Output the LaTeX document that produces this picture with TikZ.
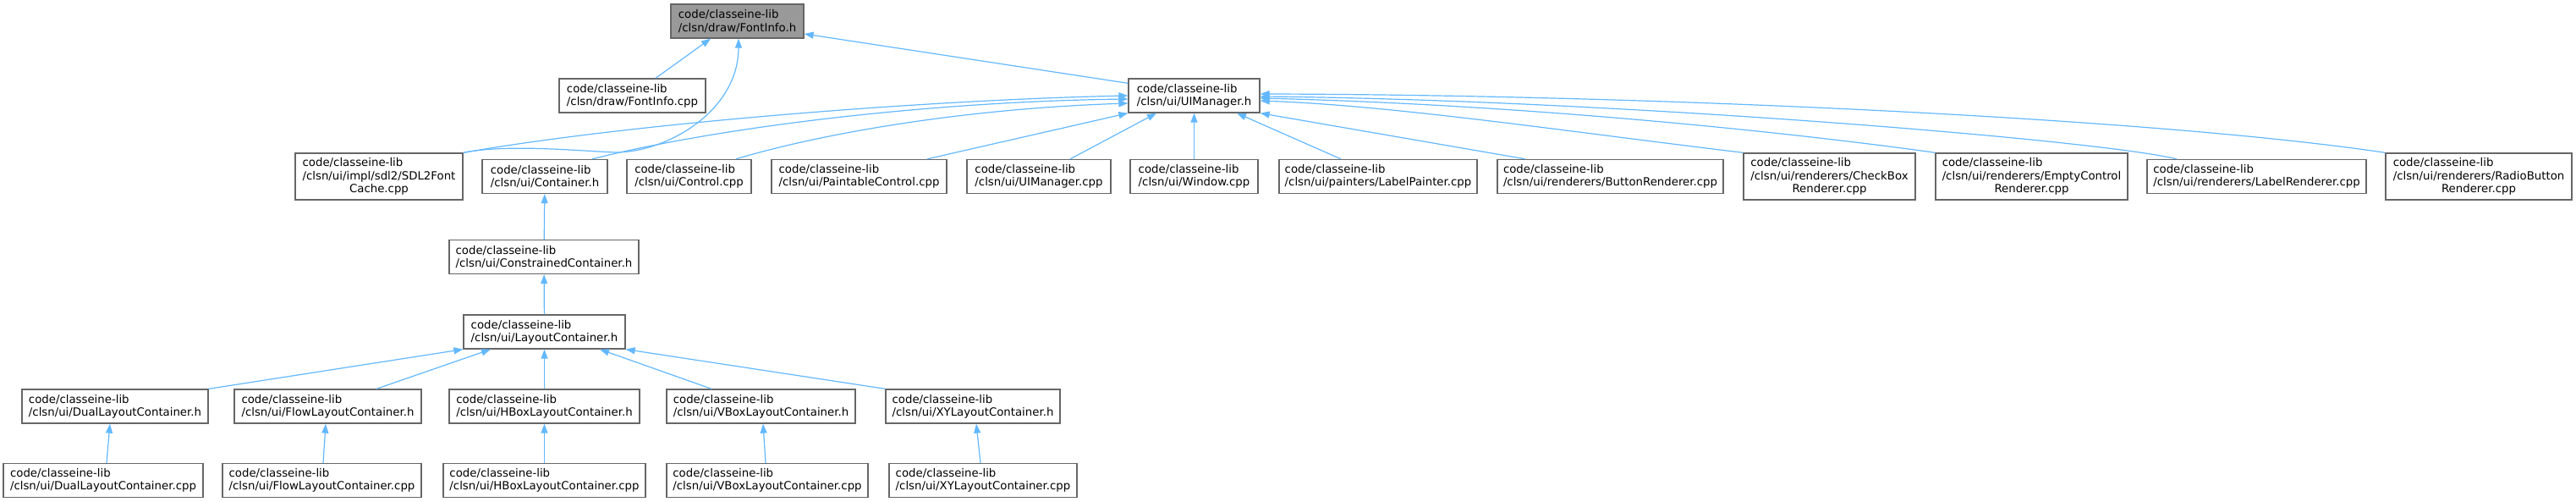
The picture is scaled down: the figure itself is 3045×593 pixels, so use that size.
\documentclass[tikz,border=0pt]{standalone}
\usepackage{fontspec}
\setmainfont{DejaVu Sans}
\usetikzlibrary{arrows.meta}
\definecolor{edgeblue}{HTML}{63B8FF}
\definecolor{framegrey}{HTML}{666666}
\definecolor{rootgrey}{HTML}{999999}
\newcommand{\lastc}[1]{\hspace*{\fill}#1\hspace*{\fill}}

\begin{document}
\begin{tikzpicture}[x=1pt, y=-1pt,
    file/.style={draw=framegrey, fill=white, line width=1.3pt, align=left, inner sep=0pt,
        minimum height=40pt, font=\fontsize{13.3}{15.2}\selectfont},
    tall/.style={file, minimum height=55pt},
    dep/.style={edgeblue, line width=1.2pt, -{Triangle[length=11pt,width=8pt]}}]
    \useasboundingbox (0,0) rectangle (3045,593);

    % Top row
    \node[file, fill=rootgrey, minimum width=157pt] (finfo) at (871.5,25) {code/classeine-lib\\/clsn/draw/FontInfo.h};
    \node[file, minimum width=173pt] (fcpp) at (747.5,113) {code/classeine-lib\\/clsn/draw/FontInfo.cpp};
    \node[file, minimum width=155pt] (ui) at (1411.5,113) {code/classeine-lib\\/clsn/ui/UIManager.h};

    % Users of UIManager.h
    \node[tall, minimum width=198pt] (sdl2) at (448,208.5) {code/classeine-lib\\/clsn/ui/impl/sdl2/SDL2Font\\\lastc{Cache.cpp}};
    \node[file, minimum width=148pt] (cont) at (644,208.5) {code/classeine-lib\\/clsn/ui/Container.h};
    \node[file, minimum width=147pt] (ctrl) at (814.5,208.5) {code/classeine-lib\\/clsn/ui/Control.cpp};
    \node[file, minimum width=207pt] (paint) at (1015.5,208.5) {code/classeine-lib\\/clsn/ui/PaintableControl.cpp};
    \node[file, minimum width=170pt] (ucpp) at (1228,208.5) {code/classeine-lib\\/clsn/ui/UIManager.cpp};
    \node[file, minimum width=151pt] (win) at (1411.5,208.5) {code/classeine-lib\\/clsn/ui/Window.cpp};
    \node[file, minimum width=234pt] (lpaint) at (1629,208.5) {code/classeine-lib\\/clsn/ui/painters/LabelPainter.cpp};
    \node[file, minimum width=267pt] (bren) at (1903.5,208.5) {code/classeine-lib\\/clsn/ui/renderers/ButtonRenderer.cpp};
    \node[tall, minimum width=203pt] (cbox) at (2162.5,208.5) {code/classeine-lib\\/clsn/ui/renderers/CheckBox\\\lastc{Renderer.cpp}};
    \node[tall, minimum width=227pt] (ectl) at (2401.5,208.5) {code/classeine-lib\\/clsn/ui/renderers/EmptyControl\\\lastc{Renderer.cpp}};
    \node[file, minimum width=259pt] (lren) at (2667.5,208.5) {code/classeine-lib\\/clsn/ui/renderers/LabelRenderer.cpp};
    \node[tall, minimum width=220pt] (rbtn) at (2930,208.5) {code/classeine-lib\\/clsn/ui/renderers/RadioButton\\\lastc{Renderer.cpp}};

    % Container chain
    \node[file, minimum width=224pt] (ccont) at (643,303.5) {code/classeine-lib\\/clsn/ui/ConstrainedContainer.h};
    \node[file, minimum width=191pt] (lay) at (643.5,392) {code/classeine-lib\\/clsn/ui/LayoutContainer.h};
    \foreach \n/\x/\w/\xc/\wc in {Dual/136/220/122/236, Flow/387.5/221/380.5/235, HBox/643.5/225/643.5/239,
        VBox/899.5/223/907/238, XY/1150/206/1162/222} {
        \node[file, minimum width=\w pt] (\n-h) at (\x,480) {code/classeine-lib\\/clsn/ui/\n LayoutContainer.h};
        \node[file, minimum width=\wc pt] (\n-cpp) at (\xc,567.5) {code/classeine-lib\\/clsn/ui/\n LayoutContainer.cpp};
    }

    % Edges into FontInfo.h
    \draw[dep] ([xshift=27.5pt]fcpp.north) -- ([xshift=-31.5pt]finfo.south);
    \draw[dep] (sdl2.north east) .. controls (600,170) and (680,178) .. (727,180)
        .. controls (790,180) and (873,130) .. ([xshift=1.5pt]finfo.south);
    \draw[dep] ([yshift=-6pt]ui.north west) -- ([yshift=-15pt]finfo.east);

    % Edges into UIManager.h
    \draw[dep] (sdl2.north east) .. controls (750,145) and (1100,118) .. (ui.west);
    \draw[dep] ([xshift=56pt]cont.north) .. controls (850,150) and (1100,120) .. ([yshift=-4pt]ui.west);
    \draw[dep] ([xshift=55.5pt]ctrl.north) .. controls (980,155) and (1150,128) .. ([yshift=-9pt]ui.west);
    \draw[dep] ([xshift=80.5pt]paint.north) -- (ui.south west);
    \draw[dep] ([xshift=37pt]ucpp.north) -- ([xshift=-44.5pt]ui.south);
    \draw[dep] (win) -- (ui);
    \draw[dep] ([xshift=-44pt]lpaint.north) -- ([xshift=50.5pt]ui.south);
    \draw[dep] ([xshift=-100.5pt]bren.north) -- (ui.south east);
    \draw[dep] (cbox.north west) .. controls (1850,155) and (1650,125) .. ([yshift=-6pt]ui.east);
    \draw[dep] (ectl.north west) .. controls (2180,165) and (1850,125) .. ([yshift=-3pt]ui.east);
    \draw[dep] ([xshift=-94.5pt]lren.north) .. controls (2480,165) and (1900,118) .. ([yshift=-1pt]ui.east);
    \draw[dep] (rbtn.north west) .. controls (2550,140) and (1950,112) .. ([yshift=2pt]ui.east);

    % Container chain edges
    \draw[dep] (ccont) -- (cont);
    \draw[dep] (lay) -- (ccont);
    \draw[dep] (Dual-h.north east) -- (lay.south west);
    \draw[dep] ([xshift=57.5pt]Flow-h.north) -- ([xshift=-63.5pt]lay.south);
    \draw[dep] (HBox-h) -- (lay);
    \draw[dep] ([xshift=-58.5pt]VBox-h.north) -- ([xshift=65.5pt]lay.south);
    \draw[dep] (XY-h.north west) -- (lay.south east);
    \foreach \n/\a/\b in {Dual/4/-6, Flow/1.5/-2.5, HBox/0/0, VBox/-2/2.5, XY/-3/4}
        \draw[dep] ([xshift=\a pt]\n-cpp.north) -- ([xshift=\b pt]\n-h.south);
\end{tikzpicture}
\end{document}
